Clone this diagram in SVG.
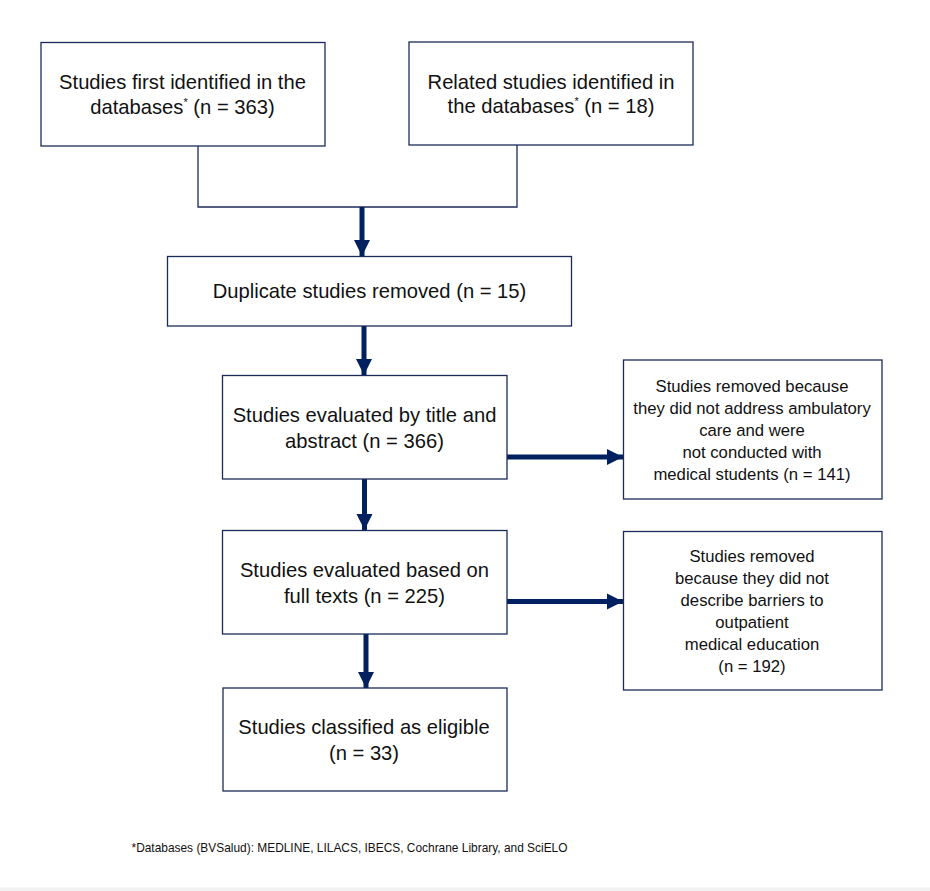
<svg xmlns="http://www.w3.org/2000/svg" width="930" height="891" viewBox="0 0 930 891">
<style>
.box{fill:#fff;stroke:#1b2a5a;stroke-width:1.3}
.t{font-family:"Liberation Sans",Arial,sans-serif;font-size:20.2px;fill:#111;text-anchor:middle}
.s{font-family:"Liberation Sans",Arial,sans-serif;font-size:16.7px;fill:#111;text-anchor:middle}
.f{font-family:"Liberation Sans",Arial,sans-serif;font-size:13px;fill:#111}
.thin{fill:none;stroke:#1b2a5a;stroke-width:1.3}
.arr{fill:none;stroke:#002060;stroke-width:5}
.sup{font-size:11px}
</style>
<defs>
<marker id="ah" viewBox="0 0 10 10" refX="10" refY="5" markerWidth="3.3" markerHeight="3.3" markerUnits="strokeWidth" orient="auto">
<path d="M0,0 L10,5 L0,10 Z" fill="#002060"/>
</marker>
</defs>
<rect x="0" y="0" width="930" height="891" fill="#fff"/>
<rect x="0" y="887.5" width="930" height="3.5" fill="#f2f2f2"/>
<g id="connectors">
<path class="thin" d="M198,146 V207 H517 V145"/>
<line class="arr" x1="362" y1="207" x2="362" y2="256" marker-end="url(#ah)"/>
<line class="arr" x1="364" y1="326" x2="364" y2="375" marker-end="url(#ah)"/>
<line class="arr" x1="364.5" y1="479" x2="364.5" y2="530" marker-end="url(#ah)"/>
<line class="arr" x1="366" y1="634" x2="366" y2="688" marker-end="url(#ah)"/>
<line class="arr" x1="507" y1="457" x2="623" y2="457" marker-end="url(#ah)"/>
<line class="arr" x1="507" y1="601.5" x2="623" y2="601.5" marker-end="url(#ah)"/>
</g>
<g id="n1">
<rect class="box" x="41" y="42.5" width="284" height="103.5"/>
<text class="t" x="182.5" y="89">Studies first identified in the</text>
<text class="t" x="182.5" y="114">databases<tspan class="sup" dy="-8">*</tspan><tspan dy="8"> (n = 363)</tspan></text>
</g>
<g id="n2">
<rect class="box" x="409" y="42" width="284" height="103"/>
<text class="t" x="551" y="89">Related studies identified in</text>
<text class="t" x="551" y="113">the databases<tspan class="sup" dy="-8">*</tspan><tspan dy="8"> (n = 18)</tspan></text>
</g>
<g id="n3">
<rect class="box" x="167.5" y="256.5" width="404" height="69.5"/>
<text class="t" x="369.5" y="298">Duplicate studies removed (n = 15)</text>
</g>
<g id="n4">
<rect class="box" x="222.5" y="375.5" width="284.5" height="103.5"/>
<text class="t" x="364.5" y="422">Studies evaluated by title and</text>
<text class="t" x="364.5" y="448">abstract (n = 366)</text>
</g>
<g id="n5">
<rect class="box" x="623.5" y="360" width="258.5" height="139"/>
<text class="s" x="752" y="392">Studies removed because</text>
<text class="s" x="752" y="414">they did not address ambulatory</text>
<text class="s" x="752" y="436">care and were</text>
<text class="s" x="752" y="458">not conducted with</text>
<text class="s" x="752" y="480">medical students (n = 141)</text>
</g>
<g id="n6">
<rect class="box" x="623.5" y="531.5" width="258.5" height="158.5"/>
<text class="s" x="752" y="562">Studies removed</text>
<text class="s" x="752" y="584">because they did not</text>
<text class="s" x="752" y="606">describe barriers to</text>
<text class="s" x="752" y="628">outpatient</text>
<text class="s" x="752" y="650">medical education</text>
<text class="s" x="752" y="672">(n = 192)</text>
</g>
<g id="n7">
<rect class="box" x="222.5" y="530.5" width="284.5" height="103.5"/>
<text class="t" x="364.5" y="577">Studies evaluated based on</text>
<text class="t" x="364.5" y="602.5">full texts (n = 225)</text>
</g>
<g id="n8">
<rect class="box" x="223" y="688" width="284" height="103"/>
<text class="t" x="364" y="733.5">Studies classified as eligible</text>
<text class="t" x="364" y="759.5">(n = 33)</text>
</g>
<text class="f" x="131.5" y="852" textLength="436" lengthAdjust="spacingAndGlyphs">*Databases (BVSalud): MEDLINE, LILACS, IBECS, Cochrane Library, and SciELO</text>
</svg>
